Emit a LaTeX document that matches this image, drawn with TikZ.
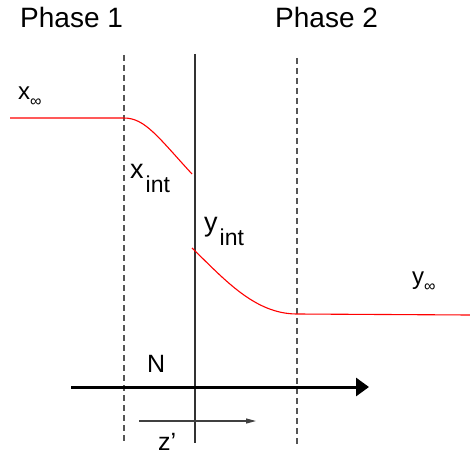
\documentclass[tikz,border=0pt]{standalone}
\usepackage{fontspec}
\setmainfont{Liberation Sans}
\usetikzlibrary{arrows.meta}
\definecolor{curvered}{HTML}{FF0000}
\definecolor{linegrey}{HTML}{555555}
\newcommand\lowidx[1]{\raisebox{-14pt}{\fontsize{23}{26}\selectfont #1}}
\newcommand\inftysub{\raisebox{-7pt}{\fontsize{16}{18}\selectfont ∞}}

\begin{document}
\begin{tikzpicture}[x=1pt,y=-1pt,>={Triangle[length=13pt,width=18pt]},
  bigtxt/.style={anchor=base west,inner sep=0pt,font=\fontsize{28}{32}\selectfont},
  midtxt/.style={anchor=base west,inner sep=0pt,font=\fontsize{27}{30}\selectfont},
  smalltxt/.style={anchor=base west,inner sep=0pt,font=\fontsize{24}{27}\selectfont},
  edge/.style={linegrey,line width=1.3pt,dash pattern=on 6pt off 4pt},
  wall/.style={black!80,line width=1.2pt},
  conc/.style={curvered,line width=1.1pt}]
  \useasboundingbox (0,0) rectangle (470,457);
  % phases
  \node[bigtxt] (ph1) at (20,28) {Phase 1};
  \node[bigtxt] (ph2) at (275,28) {Phase 2};
  % film edges and interface
  \coordinate (e1t) at (124,55);  \coordinate (e1b) at (124,443);
  \coordinate (ift) at (195,54);  \coordinate (ifb) at (195,443);
  \coordinate (e2t) at (297,58);  \coordinate (e2b) at (297,446);
  \draw[edge] (e1t) -- (e1b);
  \draw[wall] (ift) -- (ifb);
  \draw[edge] (e2t) -- (e2b);
  % profiles
  \coordinate (xa) at (10,118); \coordinate (xb) at (124,118); \coordinate (xc) at (192,174);
  \draw[conc] (xa) -- (xb) .. controls (145,118) and (158,137) .. (xc);
  \coordinate (ya) at (192,248); \coordinate (yb) at (297,314); \coordinate (yc) at (470,315);
  \draw[conc] (ya) .. controls (225,280) and (255,314) .. (yb) -- (yc);
  % labels
  \node[smalltxt] (xinf) at (18,100) {x\inftysub};
  \node[midtxt] (xint) at (130,178) {x\hspace{2pt}\lowidx{int}};
  \node[midtxt] (yint) at (204,231) {y\hspace{2pt}\lowidx{int}};
  \node[smalltxt] (yinf) at (412,284) {y\inftysub};
  % flux and coordinate
  \coordinate (na) at (71,387); \coordinate (nb) at (369,387);
  \draw[->,line width=3pt] (na) -- (nb);
  \node[midtxt,font=\fontsize{25}{28}\selectfont] (flux) at (147,372) {N};
  \coordinate (za) at (139,421); \coordinate (zb) at (256,421);
  \draw[-{Triangle[length=10pt,width=5pt]},line width=1.2pt,black!75] (za) -- (zb);
  \node[midtxt,font=\fontsize{25}{28}\selectfont] (zlbl) at (158,450) {z’};
\end{tikzpicture}
\end{document}
